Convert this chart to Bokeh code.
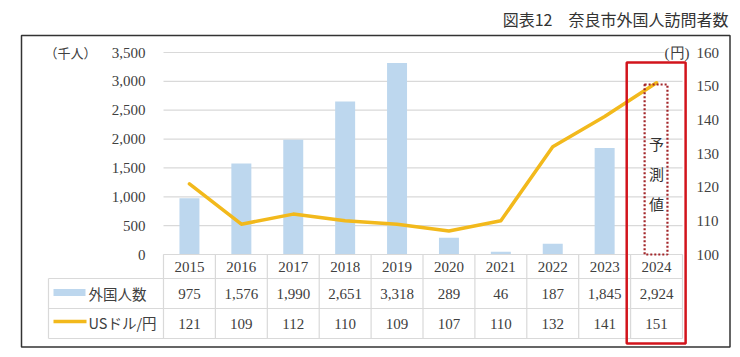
from bokeh.plotting import figure
from bokeh.models import Range1d, ColumnDataSource
from bokeh.core.properties import value
from bokeh.embed import file_html
from bokeh.resources import INLINE

# ---------------- data ----------------
years = ["2015", "2016", "2017", "2018", "2019", "2020", "2021", "2022", "2023", "2024"]
visitors = [975, 1576, 1990, 2651, 3318, 289, 46, 187, 1845, 2924]   # 千人
usd_jpy = [121, 109, 112, 110, 109, 107, 110, 132, 141, 151]         # 円
forecast_year = "2024"
left_ticks = [0, 500, 1000, 1500, 2000, 2500, 3000, 3500]
right_ticks = [100, 110, 120, 130, 140, 150, 160]
title_text = "図表12　奈良市外国人訪問者数"
left_unit = "（千人）"
right_unit = "(円)"
row_labels = ["外国人数", "USドル/円"]
forecast_label = ["予", "測", "値"]

# ---------------- layout (pixels) ----------------
W, H = 740, 357
X0, CW = 163.0, 51.9          # left edge of first column, column width
Y0 = 254.0                    # baseline pixel
YS = 202.0 / 3500.0           # px per thousand
U0, US = 100.0, 202.0 / 60.0  # right axis

def dx(px):
    return (px - X0) / CW

def dy(px):
    return (Y0 - px) / YS

def du(px):
    return U0 + (Y0 - px) / US

p = figure(width=W, height=H, output_backend="svg", toolbar_location=None,
           x_range=Range1d(dx(0), dx(W)), y_range=Range1d(dy(H), dy(0)),
           min_border=0, outline_line_color=None)
p.extra_y_ranges = {"usd": Range1d(du(H), du(0))}
p.xaxis.visible = False
p.yaxis.visible = False
p.grid.visible = False
p.background_fill_color = "white"
p.border_fill_color = "white"

n = len(years)
centers = [i + 0.5 for i in range(n)]
NUM_FONT = value("Liberation Serif")
JP_FONT = value("Noto Sans CJK JP")
TXT = "#404040"
GRID = "#d9d9d9"
BAR = "#BDD7EE"
LINE = "#F2B91C"

# outer frame
p.quad(left=[dx(21)], right=[dx(729.5)], top=[dy(35)], bottom=[dy(346.5)],
       fill_color=None, line_color="#333333", line_width=1.5)

# title
p.text(x=[dx(728)], y=[dy(18)], text=[title_text], text_font=JP_FONT,
       text_font_size="16px", text_align="right", text_baseline="middle",
       text_color="#333333")

# gridlines
p.segment(x0=[0] * len(left_ticks), x1=[n] * len(left_ticks), y0=left_ticks, y1=left_ticks,
          line_color=GRID, line_width=1.2)

# bars (actual values only; forecast year shown as dotted box)
bar_idx = [i for i, y in enumerate(years) if y != forecast_year]
bsrc = ColumnDataSource(dict(x=[centers[i] for i in bar_idx], top=[visitors[i] for i in bar_idx]))
p.vbar(x="x", top="top", bottom=0, width=0.385, source=bsrc, fill_color=BAR, line_color=None)

# USD/JPY line
p.line(x=centers, y=usd_jpy, y_range_name="usd", line_color=LINE, line_width=3.5,
       line_join="round", line_cap="round")

# left tick labels
p.text(x=[dx(145)] * len(left_ticks), y=left_ticks, text=[f"{t:,}" for t in left_ticks],
       text_font=NUM_FONT, text_font_size="15px", text_align="right", text_baseline="middle",
       text_color=TXT)
p.text(x=[dx(44)], y=[left_ticks[-1]], text=[left_unit], text_font=JP_FONT,
       text_font_size="13px", text_align="left", text_baseline="middle", text_color=TXT)

# right tick labels
p.text(x=[dx(696)] * len(right_ticks), y=right_ticks, y_range_name="usd",
       text=[str(t) for t in right_ticks], text_font=NUM_FONT, text_font_size="15px",
       text_align="left", text_baseline="middle", text_color=TXT)
p.text(x=[dx(689)], y=[right_ticks[-1]], y_range_name="usd", text=[right_unit],
       text_font=NUM_FONT, text_font_size="15px", text_align="right", text_baseline="middle",
       text_color=TXT, background_fill_color="white")

# ---------------- data table ----------------
r1_top, r1_bot, r2_bot, r3_bot = 254, 278, 308, 338
tl = 48
p.segment(x0=[0, dx(tl), dx(tl), dx(tl)], x1=[n, n, n, n],
          y0=[dy(r1_top), dy(r1_bot), dy(r2_bot), dy(r3_bot)],
          y1=[dy(r1_top), dy(r1_bot), dy(r2_bot), dy(r3_bot)],
          line_color=GRID, line_width=1.2)
vx = list(range(n + 1))
p.segment(x0=vx, x1=vx, y0=[dy(r1_top)] * len(vx), y1=[dy(r3_bot)] * len(vx),
          line_color=GRID, line_width=1.2)
p.segment(x0=[dx(tl)], x1=[dx(tl)], y0=[dy(r1_bot)], y1=[dy(r3_bot)],
          line_color=GRID, line_width=1.2)

p.text(x=centers, y=[dy(266)] * n, text=years, text_font=NUM_FONT, text_font_size="15px",
       text_align="center", text_baseline="middle", text_color=TXT)
p.text(x=centers, y=[dy(293)] * n, text=[f"{v:,}" for v in visitors], text_font=NUM_FONT,
       text_font_size="15px", text_align="center", text_baseline="middle", text_color=TXT)
p.text(x=centers, y=[dy(323)] * n, text=[str(v) for v in usd_jpy], text_font=NUM_FONT,
       text_font_size="15px", text_align="center", text_baseline="middle", text_color=TXT)

# legend keys in table
p.quad(left=[dx(53)], right=[dx(85)], top=[dy(288.5)], bottom=[dy(295.5)],
       fill_color=BAR, line_color=None)
p.segment(x0=[dx(53)], x1=[dx(86)], y0=[dy(321)], y1=[dy(321)], line_color=LINE,
          line_width=3.5)
p.text(x=[dx(88), dx(88)], y=[dy(293), dy(322)], text=row_labels, text_font=JP_FONT,
       text_font_size="14.5px", text_align="left", text_baseline="middle", text_color=TXT)

# forecast highlight
fi = years.index(forecast_year)
p.quad(left=[fi - 0.075], right=[fi + 1.06], top=[dy(62)], bottom=[dy(343)],
       fill_color=None, line_color="#D2141C", line_width=2.5)
p.quad(left=[centers[fi] - 0.23], right=[centers[fi] + 0.21], top=[dy(84)], bottom=[0],
       fill_color=None, line_color="#A3262A", line_width=2.2, line_dash="2 2")
p.text(x=[centers[fi]] * 3, y=[dy(143), dy(173), dy(203)], text=forecast_label,
       text_font=JP_FONT, text_font_size="15px", text_align="center", text_baseline="middle",
       text_color="#333333")

open("out.html", "w").write(file_html(p, INLINE))
